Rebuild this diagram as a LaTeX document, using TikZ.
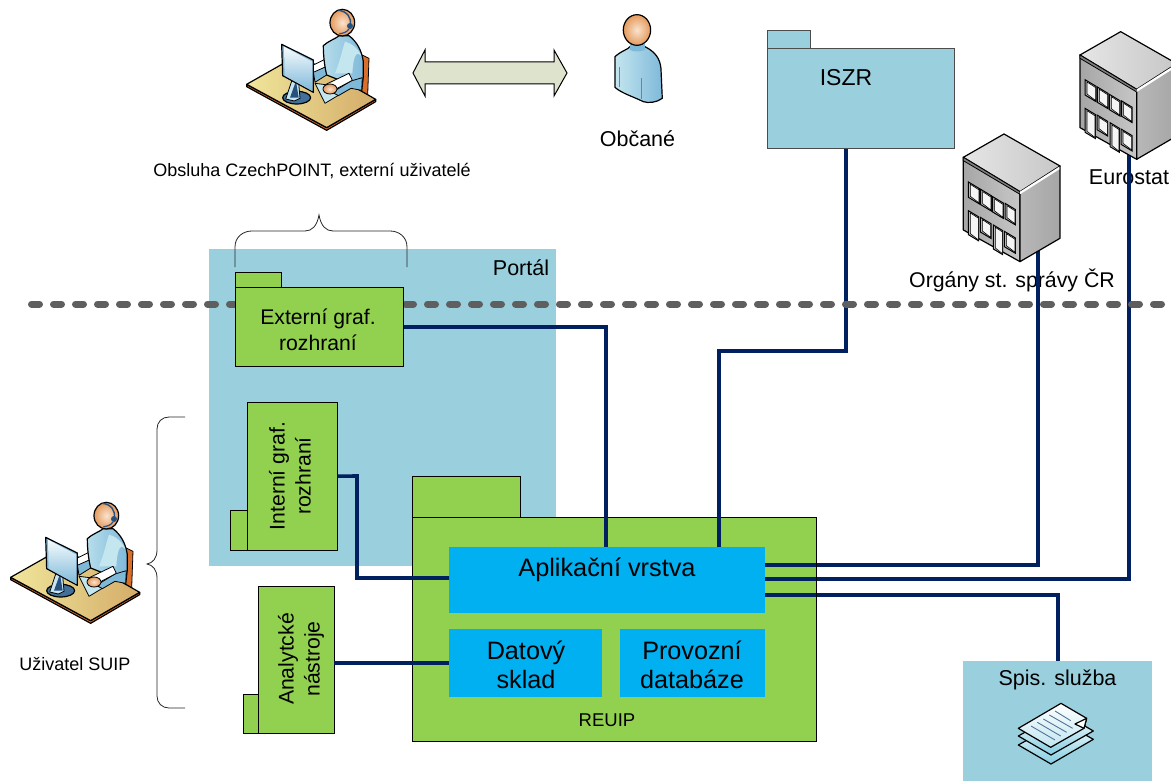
\documentclass[tikz,border=0pt]{standalone}
\usepackage{fontspec}
\setmainfont{Liberation Sans}
\usetikzlibrary{calc}
\definecolor{panel}{HTML}{9ACFDE}
\definecolor{pkg}{HTML}{92D050}
\definecolor{cyanbox}{HTML}{00B0F0}
\definecolor{navy}{HTML}{002060}
\definecolor{dashgray}{HTML}{5F5F5F}
\definecolor{arrowfill}{HTML}{DDE3CC}
\definecolor{sheetblue}{HTML}{82CDE1}
\definecolor{skyA}{HTML}{C4E6EF}
\definecolor{skyB}{HTML}{7FB9DA}
\definecolor{deepblue}{HTML}{28507F}
\definecolor{skin}{HTML}{E49A5C}
\definecolor{skinlight}{HTML}{FAE3CF}
\definecolor{chairor}{HTML}{D8702C}
\definecolor{deskA}{HTML}{F0E69B}
\definecolor{deskB}{HTML}{D4AC69}
\tikzset{
  x=1pt,y=-1pt,
  pkgbox/.style={draw=black,line width=0.9pt,fill=pkg},
  panelbox/.style={fill=panel},
  cyanrect/.style={fill=cyanbox},
  link/.style={draw=navy,line width=3.6pt,line join=miter},
  brace/.style={draw=black!85,line width=0.8pt},
  ink/.style={draw=black,line width=1.2pt,line join=round},
  fine/.style={draw=black,line width=0.8pt,line join=round},
  lab/.style={font=\fontsize{#1}{#1}\selectfont,inner sep=0pt,align=center},
  boxlab/.style 2 args={font=\fontsize{#1}{#2}\selectfont,inner sep=0pt,align=center},
}
% operator at a desk, drawn in 3x px units
\newcommand{\opicon}[2]{%
\begin{scope}[shift={(#1,#2)},x=0.3333pt,y=-0.3333pt]
  % chair
  \path[fine,fill=chairor] (352,150) -- (372,160) -- (368,272) -- (345,258) -- cycle;
  % desk
  \path[ink,fill=chairor] (5,238) -- (245,368) -- (392,283) -- (392,290) -- (245,376) -- (5,245) -- cycle;
  \path[ink,left color=deskA,right color=deskB] (5,238) -- (160,150) -- (392,283) -- (245,368) -- cycle;
  % back arm
  \path[fine,fill=skyB] (205,200) -- (245,182) -- (248,208) -- (210,232) -- cycle;
  \path[fine,fill=white] (205,180) -- (240,163) -- (243,185) -- (205,202) -- cycle;
  % body
  \path[ink,left color=skyA!80!skyB,right color=skyB] (235,122) .. controls (250,108) and (270,102) .. (283,92) -- (312,92) .. controls (335,110) and (350,135) .. (355,170) -- (355,215) -- (350,258) -- (320,240) -- (245,210) .. controls (238,180) and (235,150) .. (235,122) -- cycle;
  \path[fill=skyA] (300,110) .. controls (320,115) and (340,130) .. (350,155) .. controls (335,135) and (325,150) .. (322,205) -- (270,205) .. controls (285,170) and (290,140) .. (300,110) -- cycle;
  % keyboard
  \path[fine,fill=skyA] (210,235) -- (240,295) -- (285,268) -- (250,240) -- cycle;
  % front arm
  \path[fine,fill=skyB] (262,262) -- (318,228) -- (352,218) -- (350,256) -- (318,250) -- (280,272) -- cycle;
  \path[fine,fill=white] (243,238) -- (312,205) -- (322,226) -- (262,258) -- cycle;
  \path[fine,inner color=skinlight,outer color=skin] (255,252) ellipse [x radius=21,y radius=15];
  % monitor
  \path[ink,fill=deepblue!70!skyB] (155,278) ellipse [x radius=42,y radius=19];
  \path[fine,fill=skyA] (122,282) -- (145,214) -- (160,220) -- (165,280) -- (148,288) -- cycle;
  \path[fill=deepblue] (135,278) -- (153,228) -- (161,278) -- cycle;
  \path[ink,fill=skyB] (110,118) -- (205,165) -- (205,262) -- (113,212) -- cycle;
  \path[top color=white!85!skyA,bottom color=skyB] (117,125) -- (202,170) -- (202,258) -- (119,212) -- cycle;
  % head
  \path[ink,inner color=skinlight,outer color=skin] (292,53) ellipse [x radius=37,y radius=40];
  \draw[color=deepblue,line width=1.4pt] (280,16) .. controls (305,18) and (322,38) .. (315,62);
  \fill[color=deepblue] (315,63) circle (9);
  \draw[color=deepblue,line width=1.2pt] (312,72) .. controls (305,82) and (295,85) .. (283,86);
\end{scope}}
% building, drawn in 3x px units of the lower one
\newcommand{\bldgwin}[4]{% x left, x right, y at left, height
  \path[draw=black,line width=1pt,fill=black!28] (#1,#3) -- (#2,{#3+(#2-#1)*0.6}) -- (#2,{#3+(#2-#1)*0.6+#4}) -- (#1,{#3+#4}) -- cycle;
  \path[draw=black,line width=0.6pt,fill=black!4] ({#1+6},{#3+7}) -- ({#2-1},{#3+(#2-#1)*0.6+4}) -- ({#2-1},{#3+(#2-#1)*0.6+#4-3}) -- ({#1+6},{#3+#4-3}) -- cycle;
}
\newcommand{\bldgicon}[2]{%
\begin{scope}[shift={(#1,#2)},x=0.3333pt,y=-0.3333pt]
  \path[ink,left color=black!35,middle color=black!2,right color=black!22] (70,442) -- (240,545) -- (240,755) -- (70,660) -- cycle;
  \path[ink,left color=black!28,middle color=white,right color=black!35] (240,545) -- (360,468) -- (360,685) -- (240,755) -- cycle;
  \path[ink,left color=black!10,middle color=white,right color=black!22] (192,372) -- (360,468) -- (240,545) -- (70,442) -- cycle;
  \path[draw=black,line width=0.8pt,fill=black!50] (70,442) -- (240,545) -- (240,553) -- (70,452) -- cycle;
  \fill[white] (240,545) -- (358,470) -- (358,478) -- (240,553) -- cycle;
  \bldgwin{85}{118}{516}{46}
  \bldgwin{122}{154}{538}{46}
  \bldgwin{158}{190}{560}{46}
  \bldgwin{195}{226}{580}{46}
  \bldgwin{85}{116}{602}{72}
  \bldgwin{121}{153}{622}{44}
  \bldgwin{160}{188}{645}{72}
  \bldgwin{193}{226}{664}{46}
\end{scope}}
\begin{document}
\begin{tikzpicture}
\useasboundingbox (0,0) rectangle (1171,781);
% panels
\node[panelbox,inner sep=0pt,anchor=north west,minimum width=347pt,minimum height=317pt] (portal) at (209,249) {};
\node[panelbox,inner sep=0pt,anchor=north west,minimum width=189pt,minimum height=120pt] (spis) at (963,661) {};
% labels below lines
\node[lab=21.5] (eurolab) at (1129,177) {Eurostat};
\node[lab=21.3] (orglab) at (1012,280) {Orgány st. správy ČR};
\node[lab=21.5] (portlab) at (521,268) {Portál};
\node[lab=21.5] (obcan) at (637.5,139) {Občané};
\node[lab=18] (obsl) at (312,171) {Obsluha CzechPOINT, externí uživatelé};
\node[lab=18] (suip) at (75,664) {Uživatel SUIP};
% free ends of connectors on named boxes
\node[inner sep=0pt,anchor=north west,minimum width=168pt,minimum height=79pt] (extb) at (235,287) {};
\node[inner sep=0pt,anchor=north west,minimum width=90pt,minimum height=148pt] (intb) at (247,402) {};
\node[inner sep=0pt,anchor=north west,minimum width=76pt,minimum height=147pt] (anab) at (258,586) {};
\node[inner sep=0pt,anchor=north west,minimum width=187pt,minimum height=100pt] (iszr) at (767,48) {};
\node[inner sep=0pt,anchor=north west,minimum width=316pt,minimum height=66pt] (app) at (449,547) {};
\node[inner sep=0pt,anchor=north west,minimum width=153pt,minimum height=68pt] (dw) at (449,629) {};
\node[inner sep=0pt,anchor=north west,minimum width=404pt,minimum height=224pt] (reuip) at (412,517) {};
\coordinate (extIn) at (606,547);
\coordinate (iszrOut) at (846,148);
\coordinate (iszrA) at (846,351);
\coordinate (iszrB) at (719,351);
\coordinate (iszrIn) at (719,547);
\coordinate (orgOut) at (765,565);
\coordinate (orgTop) at (1038,250);
\coordinate (eurOut) at (765,579);
\coordinate (eurTop) at (1129,140);
\coordinate (spOut) at (765,595);
% connectors
\draw[link] (extb.east) -| (extIn);
\draw[link] (iszrOut) -- (iszrA) -- (iszrB) -- (iszrIn);
\draw[link] (orgOut) -| (orgTop);
\draw[link] (eurOut) -| (eurTop);
\draw[link] (spOut) -| (spis.north);
\coordinate (dashL) at (31.5,304);
\coordinate (dashR) at (1171,304);
\draw[dashgray,line width=7pt,line cap=round,dash pattern=on 8pt off 14pt] (dashL) -- (dashR);
% double arrow
\path[draw=black,line width=1pt,fill=arrowfill,line join=miter] (413,73) -- (425,50) -- (425,62) -- (554,62) -- (554,50) -- (567,73) -- (554,96) -- (554,84) -- (425,84) -- (425,96) -- cycle;
% person
\begin{scope}[shift={(230,0)},x=0.3333pt,y=-0.3333pt]
  \path[ink,left color=skyA,right color=skyB] (1155,170) .. controls (1175,152) and (1195,148) .. (1200,140) -- (1245,140) .. controls (1275,155) and (1290,175) .. (1293,205) -- (1297,295) .. controls (1280,308) and (1255,310) .. (1240,305) .. controls (1210,290) and (1175,280) .. (1155,262) -- cycle;
  \draw[color=deepblue!70,line width=1pt] (1170,200) -- (1170,262) (1235,235) -- (1235,298);
  \path[draw=none,fill=skyB] (1200,132) -- (1245,132) -- (1245,150) .. controls (1230,156) and (1212,156) .. (1200,150) -- cycle;
  \path[ink,inner color=skinlight,outer color=skin] (1221,90) ellipse [x radius=41,y radius=46];
\end{scope}
\opicon{245}{5}
\opicon{9}{498}
% documents
\begin{scope}[shift={(960,650)},x=0.3333pt,y=-0.3333pt]
  \path[ink,top color=white,bottom color=sheetblue] (175,285) -- (303,213) -- (400,268) -- (273,342) -- cycle;
  \path[ink,top color=white,bottom color=sheetblue] (175,258) -- (303,186) -- (400,243) -- (273,315) -- cycle;
  \path[ink,top color=white,bottom color=sheetblue!50!white] (175,235) -- (303,160) -- (380,205) -- (372,235) -- (272,292) -- cycle;
  \path[ink,fill=white] (345,222) -- (380,205) -- (372,235) -- cycle;
  \draw[color=deepblue!80,line width=0.9pt] (285,183) -- (332,212) (268,195) -- (338,235) (250,207) -- (320,247) (232,217) -- (302,258) (213,228) -- (285,270);
\end{scope}
% buildings
\bldgicon{940}{10}
\begin{scope}
\clip (1000,0) rectangle (1171,300);
\bldgicon{1056.67}{-92.33}
\end{scope}
% ISZR
\path[draw=black!70,line width=0.7pt,fill=panel] (767,30) rectangle (810,48);
\path[draw=black!70,line width=0.7pt,fill=panel] (iszr.north west) rectangle (iszr.south east);
\node[lab=23] (iszrlab) at (846,78) {ISZR};
\node[lab=21.5] (spislab) at (1057.5,680) {Spis. služba};
% packages
\path[pkgbox] (235,272) rectangle (281,287);
\path[pkgbox] (extb.north west) rectangle (extb.south east);
\node[boxlab={21.2}{26}] (extlab) at (318,330) {Externí graf.\\rozhraní};
\path[pkgbox] (230,510) rectangle (247,550);
\path[pkgbox] (intb.north west) rectangle (intb.south east);
\node[boxlab={21.2}{26},rotate=90] (intlab) at (290,476) {Interní graf.\\rozhraní};
\path[pkgbox] (243,694) rectangle (258,733);
\path[pkgbox] (anab.north west) rectangle (anab.south east);
\node[boxlab={21.2}{26},rotate=90] (analab) at (301,659) {Analytcké\\nástroje};
% REUIP
\path[pkgbox] (412,476) rectangle (520,517);
\path[pkgbox] (reuip.north west) rectangle (reuip.south east);
\node[lab=18.5] (reuiplab) at (607,720) {REUIP};
\path[cyanrect] (app.north west) rectangle (app.south east);
\node[lab=25.3] (applab) at (607,570) {Aplikační vrstva};
\path[cyanrect] (dw.north west) rectangle (dw.south east);
\node[boxlab={25.2}{29}] (dwlab) at (526,665) {Datový\\sklad};
\node[cyanrect,inner sep=0pt,anchor=north west,minimum width=145pt,minimum height=68pt] (prov) at (620,629) {};
\node[boxlab={25.2}{29}] (provlab) at (692,665) {Provozní\\databáze};
% connectors over reuip
\draw[link] (reuip.north -| extIn) -- (extIn);
\draw[link] (reuip.north -| iszrIn) -- (iszrIn);
\coordinate (intA) at (357,476);
\coordinate (intB) at (357,578);
\coordinate (anaY) at (0,663);
\draw[link] (intb.east) -- (intA) -- (intB) -- (app.west |- intB);
\draw[link] (anab.east |- anaY) -- (dw.west |- anaY);
\draw[link] (orgOut) -- (reuip.east |- orgOut);
\draw[link] (eurOut) -- (reuip.east |- eurOut);
\draw[link] (spOut) -- (reuip.east |- spOut);
% braces
\draw[brace] (235,267) -- (235,247) .. controls (235,237) and (243,231) .. (252,231) -- (305,231) .. controls (312,231) and (317,226) .. (319,215) .. controls (321,226) and (326,231) .. (333,231) -- (390,231) .. controls (399,231) and (407,237) .. (407,247) -- (407,267);
\draw[brace] (185,417) -- (169,417) .. controls (162,417) and (157,422) .. (157,429) -- (157,550) .. controls (157,558) and (153,563) .. (147,564) .. controls (153,565) and (157,570) .. (157,578) -- (157,696) .. controls (157,703) and (162,708) .. (169,708) -- (185,708);
\end{tikzpicture}
\end{document}
